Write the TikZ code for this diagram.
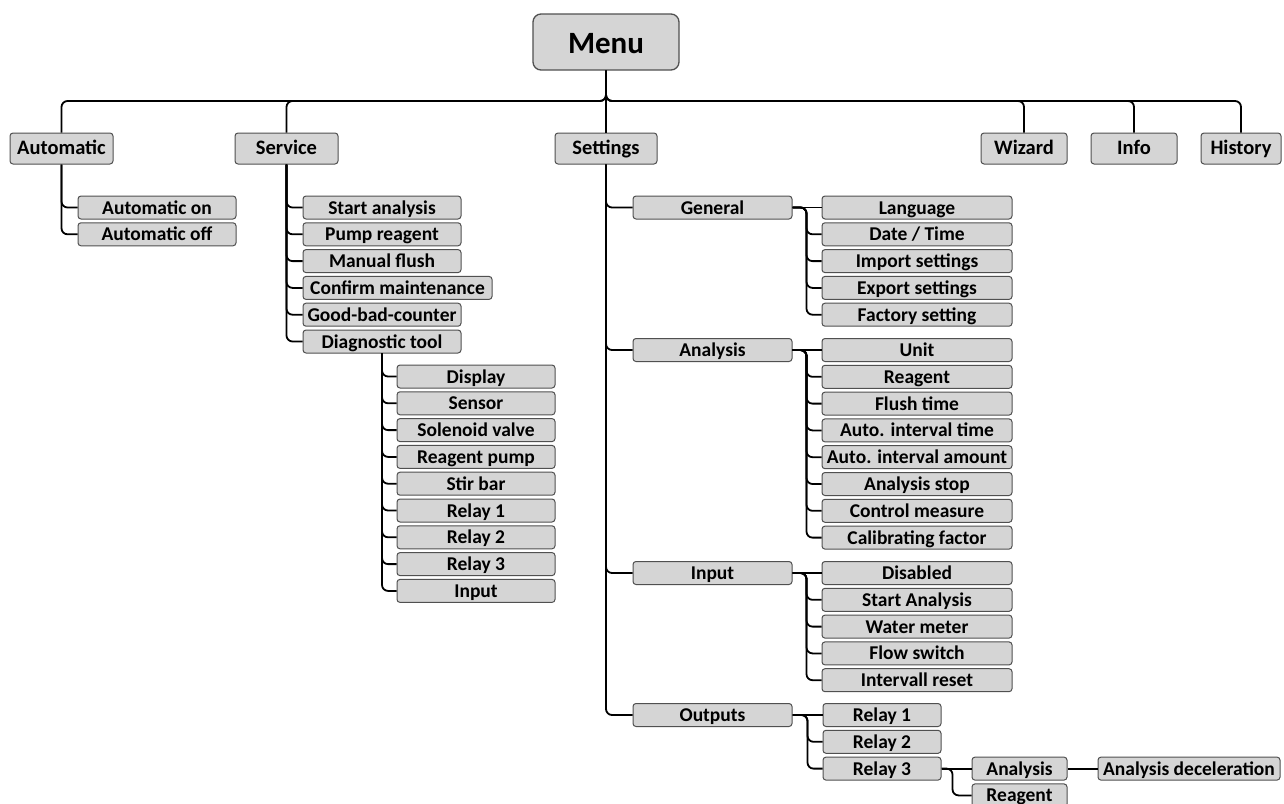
\documentclass[tikz,border=0pt]{standalone}
\usepackage{fontspec}
\setmainfont{Carlito}
\definecolor{boxfill}{HTML}{D5D5D5}
\definecolor{boxline}{HTML}{505050}

\begin{document}
\begin{tikzpicture}
            [x=1pt, y=-1pt,
            box/.style={draw=boxline, fill=boxfill, rounded corners=3pt, line width=1pt, inner sep=0pt,
                minimum height=23pt, text height=17pt, text depth=4pt, font=\fontsize{19.5}{20}\selectfont\bfseries},
            item/.style={box, minimum width=158pt},
            leaf/.style={box, minimum width=190pt},
            relay/.style={box, minimum width=118pt},
            top/.style={box, minimum height=31pt, text height=16.5pt, text depth=4.5pt, font=\fontsize{20.5}{21}\selectfont\bfseries},
            menu/.style={box, line width=1.3pt, rounded corners=8pt, minimum width=146pt, minimum height=56pt,
                text height=28pt, text depth=6pt, font=\fontsize{31}{32}\selectfont\bfseries},
            link/.style={black, line width=1.8pt, rounded corners=6pt}]

            \useasboundingbox (0,0) rectangle (1284,803);

            \node[menu] (menu) at (606,42) {Menu};

            % First level
            \node[top, minimum width=103pt] (auto) at (61.5,148.5) {Automatic};
            \node[top, minimum width=103pt] (serv) at (286.5,148.5) {Service};
            \node[top, minimum width=102pt] (sett) at (606,148.5) {Settings};
            \node[top, minimum width=86pt] (wiz) at (1024,148.5) {Wizard};
            \node[top, minimum width=86pt] (info) at (1134,148.5) {Info};
            \node[top, minimum width=80pt] (hist) at (1241,148.5) {History};

            % Automatic
            \node[item] (aon) at (157,207.5) {Automatic on};
            \node[item] (aoff) at (157,234.3) {Automatic off};

            % Service
            \node[item] (start) at (382,207.5) {Start analysis};
            \node[item] (pump) at (382,234.3) {Pump reagent};
            \node[item] (flush) at (382,261.1) {Manual flush};
            \node[box, minimum width=189pt] (confirm) at (397.5,287.9) {Confirm maintenance};
            \node[item] (counter) at (382,314.7) {Good-bad-counter};
            \node[item] (diag) at (382,341.5) {Diagnostic tool};

            \node[item] (disp) at (476,376.5) {Display};
            \node[item] (sens) at (476,403.3) {Sensor};
            \node[item] (valve) at (476,430.1) {Solenoid valve};
            \node[item] (rpump) at (476,456.9) {Reagent pump};
            \node[item] (stir) at (476,483.7) {Stir bar};
            \node[item] (drel1) at (476,510.5) {Relay 1};
            \node[item] (drel2) at (476,537.3) {Relay 2};
            \node[item] (drel3) at (476,564.1) {Relay 3};
            \node[item] (dinp) at (476,590.9) {Input};

            % Settings
            \node[item, minimum width=159pt] (gen) at (712.5,207.5) {General};
            \node[item, minimum width=159pt] (ana) at (712.5,350) {Analysis};
            \node[item, minimum width=159pt] (inp) at (712.5,573) {Input};
            \node[item, minimum width=159pt] (outp) at (712.5,715) {Outputs};

            \node[leaf] (lang) at (917,207.5) {Language};
            \node[leaf] (date) at (917,234.3) {Date / Time};
            \node[leaf] (imp) at (917,261.1) {Import settings};
            \node[leaf] (exp) at (917,287.9) {Export settings};
            \node[leaf] (fact) at (917,314.7) {Factory setting};

            \node[leaf] (unit) at (917,350) {Unit};
            \node[leaf] (reag) at (917,376.8) {Reagent};
            \node[leaf] (ftime) at (917,403.6) {Flush time};
            \node[leaf] (itime) at (917,430.4) {Auto. interval time};
            \node[leaf] (iamount) at (917,457.2) {Auto. interval amount};
            \node[leaf] (astop) at (917,484) {Analysis stop};
            \node[leaf] (ctrl) at (917,510.8) {Control measure};
            \node[leaf] (calib) at (917,537.6) {Calibrating factor};

            \node[leaf] (dis) at (917,573) {Disabled};
            \node[leaf] (sana) at (917,599.8) {Start Analysis};
            \node[leaf] (water) at (917,626.6) {Water meter};
            \node[leaf] (fswitch) at (917,653.4) {Flow switch};
            \node[leaf] (ireset) at (917,680.2) {Intervall reset};

            \node[relay] (rel1) at (882,715) {Relay 1};
            \node[relay] (rel2) at (882,741.8) {Relay 2};
            \node[relay] (rel3) at (882,768.6) {Relay 3};

            \node[box, minimum width=95pt] (oana) at (1019.5,768.6) {Analysis};
            \node[box, minimum width=95pt] (oreag) at (1019.5,795.4) {Reagent};
            \node[box, minimum width=182pt] (odecel) at (1189,768.6) {Analysis deceleration};

            % Bus under the menu
            \coordinate (bus) at (606,101);
            \draw[link] (menu) -- (bus) -| (auto);
            \draw[link] (menu) -- (bus) -| (serv);
            \draw[link] (menu) -- (sett);
            \draw[link] (menu) -- (bus) -| (wiz);
            \draw[link] (menu) -- (bus) -| (info);
            \draw[link] (menu) -- (bus) -| (hist);

            % Vertical branches
            \draw[link] (auto) |- (aon);
            \draw[link] (auto) |- (aoff);

            \draw[link] (serv) |- (start);
            \draw[link] (serv) |- (pump);
            \draw[link] (serv) |- (flush);
            \draw[link] (serv) |- (confirm);
            \draw[link] (serv) |- (counter);
            \draw[link] (serv) |- (diag);

            \draw[link] (diag) |- (disp);
            \draw[link] (diag) |- (sens);
            \draw[link] (diag) |- (valve);
            \draw[link] (diag) |- (rpump);
            \draw[link] (diag) |- (stir);
            \draw[link] (diag) |- (drel1);
            \draw[link] (diag) |- (drel2);
            \draw[link] (diag) |- (drel3);
            \draw[link] (diag) |- (dinp);

            \draw[link] (sett) |- (gen);
            \draw[link] (sett) |- (ana);
            \draw[link] (sett) |- (inp);
            \draw[link] (sett) |- (outp);

            % Side brackets
            \draw[link] (gen) -- (lang);
            \draw[link] (gen.east) -| ([xshift=-15pt]date.west) -- (date.west);
            \draw[link] (gen.east) -| ([xshift=-15pt]imp.west) -- (imp.west);
            \draw[link] (gen.east) -| ([xshift=-15pt]exp.west) -- (exp.west);
            \draw[link] (gen.east) -| ([xshift=-15pt]fact.west) -- (fact.west);

            \draw[link] (ana) -- (unit);
            \draw[link] (ana.east) -| ([xshift=-15pt]reag.west) -- (reag.west);
            \draw[link] (ana.east) -| ([xshift=-15pt]ftime.west) -- (ftime.west);
            \draw[link] (ana.east) -| ([xshift=-15pt]itime.west) -- (itime.west);
            \draw[link] (ana.east) -| ([xshift=-15pt]iamount.west) -- (iamount.west);
            \draw[link] (ana.east) -| ([xshift=-15pt]astop.west) -- (astop.west);
            \draw[link] (ana.east) -| ([xshift=-15pt]ctrl.west) -- (ctrl.west);
            \draw[link] (ana.east) -| ([xshift=-15pt]calib.west) -- (calib.west);

            \draw[link] (inp) -- (dis);
            \draw[link] (inp.east) -| ([xshift=-15pt]sana.west) -- (sana.west);
            \draw[link] (inp.east) -| ([xshift=-15pt]water.west) -- (water.west);
            \draw[link] (inp.east) -| ([xshift=-15pt]fswitch.west) -- (fswitch.west);
            \draw[link] (inp.east) -| ([xshift=-15pt]ireset.west) -- (ireset.west);

            \draw[link] (outp) -- (rel1);
            \draw[link] (outp.east) -| ([xshift=-15pt]rel2.west) -- (rel2.west);
            \draw[link] (outp.east) -| ([xshift=-15pt]rel3.west) -- (rel3.west);

            \draw[link] (rel3) -- (oana);
            \draw[link] (rel3.east) -| ([xshift=-19pt]oreag.west) -- (oreag.west);
            \draw[link] (oana) -- (odecel);

        \end{tikzpicture}
\end{document}
